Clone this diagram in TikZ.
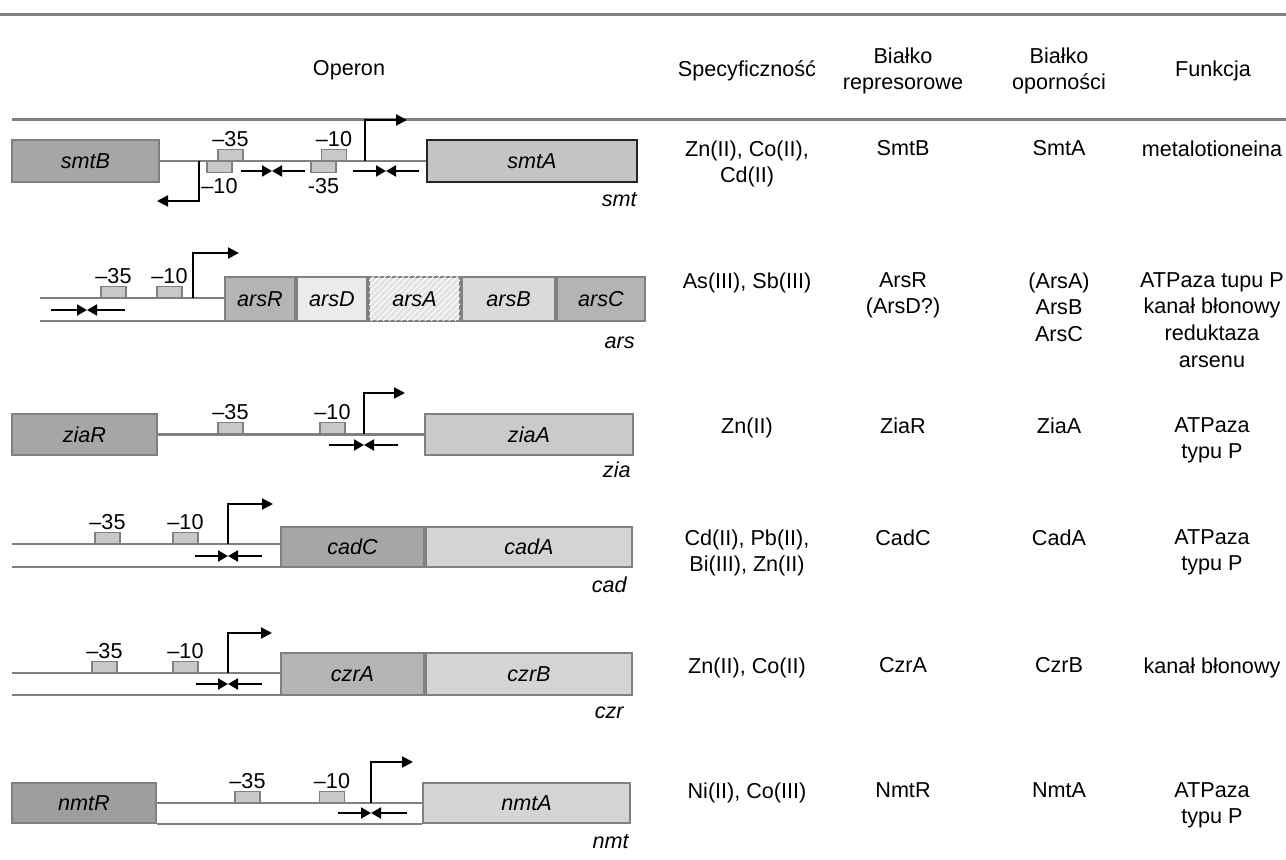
\documentclass[tikz,border=0pt]{standalone}
\usepackage{fontspec}
\setmainfont{Liberation Sans}
\usetikzlibrary{arrows.meta,positioning,patterns}
\definecolor{lineGray}{HTML}{808080}
\definecolor{elemGray}{HTML}{C8C8C8}
\definecolor{geneDark}{HTML}{A6A6A6}
\definecolor{geneMid}{HTML}{B4B4B4}
\definecolor{geneLight}{HTML}{C4C4C4}
\definecolor{genePale}{HTML}{D4D4D4}
\definecolor{geneWhite}{HTML}{ECECEC}
\newcommand{\irpair}[4]{%
  \coordinate (irL) at (#1,#4);
  \coordinate (irM) at (#2,#4);
  \coordinate (irR) at (#3,#4);
  \draw[ir] (irL) -- (irM);
  \draw[ir] (irR) -- (irM);}

\begin{document}
\begin{tikzpicture}[
    x=0.5pt, y=-0.5pt,
    font=\fontsize{10.8}{13.3}\selectfont,
    gene/.style={draw=lineGray, line width=1pt, inner sep=0pt, minimum height=21pt, font=\fontsize{10.8}{12}\itshape},
    elem/.style={draw=lineGray, fill=elemGray, line width=0.6pt, minimum width=12.5pt, minimum height=5.5pt, inner sep=0pt},
    tag/.style={inner sep=0pt},
    dna/.style={draw=lineGray, line width=1.2pt},
    prom/.style={draw=black, line width=1pt, -{Triangle[length=5.5pt, width=5.5pt]}},
    ir/.style={draw=black, line width=1pt, -{Triangle[length=5pt, width=5.5pt]}},
    rule/.style={draw=lineGray, line width=1.5pt},
    cell/.style={align=center, anchor=north, inner sep=0pt},
    opname/.style={anchor=east, inner sep=0pt, font=\fontsize{10.8}{12}\itshape}
  ]
    \useasboundingbox (0,0) rectangle (1286,860);

    % header
    \draw[rule] (0,15) -- (1286,15);
    \draw[rule] (12,120) -- (1286,120);
    \node[cell] (hop) at (349,60) {Operon};
    \node[cell] (hspec) at (747,60) {Specyficzność};
    \node[cell] (hrep) at (903,47) {Białko\\represorowe};
    \node[cell] (hres) at (1059,47) {Białko\\oporności};
    \node[cell] (hfun) at (1213,60) {Funkcja};

    % smt
    \node[gene, fill=geneDark, minimum width=73.5pt] (smtB) at (85.5,161) {smtB};
    \node[gene, fill=geneLight, minimum width=105pt, draw=black!85, line width=1.2pt] (smtA) at (532,161) {smtA};
    \draw[dna] (smtB.east) -- (smtA.west);
    \node[elem, anchor=south] (s35a) at (230.5,161) {};
    \node[elem, anchor=south] (s10a) at (334,161) {};
    \node[elem, anchor=north] (s10b) at (219.5,161) {};
    \node[elem, anchor=north] (s35b) at (323.5,161) {};
    \node[tag, above=1pt of s35a] {–35};
    \node[tag, above=1pt of s10a] {–10};
    \node[tag, below=2.5pt of s10b] {–10};
    \node[tag, below=2.5pt of s35b] {-35};
    \irpair{241}{272}{305}{171}
    \irpair{353}{386}{419}{171}
    \coordinate (smtP) at (365,161);
    \coordinate (smtT) at (407,120);
    \draw[prom] (smtP) |- (smtT);
    \coordinate (smtP2) at (199,161);
    \coordinate (smtT2) at (157,201);
    \draw[prom] (smtP2) |- (smtT2);
    \node[opname] (smt) at (637,200) {smt};

    % ars
    \node[gene, fill=geneMid, minimum width=35pt, minimum height=22pt] (arsR) at (260,299) {arsR};
    \node[gene, fill=geneWhite, minimum width=35pt, minimum height=22pt, right=0pt of arsR] (arsD) {arsD};
    \node[gene, fill=black!11, minimum width=45.5pt, minimum height=22pt, right=0pt of arsD,
      postaction={pattern=north east lines, pattern color=white}] (arsA) {arsA};
    \node[gene, fill=genePale!85!white, minimum width=46.5pt, minimum height=22pt, right=0pt of arsA] (arsB) {arsB};
    \node[gene, fill=geneMid, minimum width=44pt, minimum height=22pt, right=0pt of arsB] (arsC) {arsC};
    \coordinate (arsU) at (40,298);
    \coordinate (arsL) at (40,321);
    \draw[dna] (arsU) -- (arsU -| arsR.west);
    \draw[dna] (arsL) -- (arsL -| arsR.west);
    \node[elem, anchor=south] (a35) at (113.5,298) {};
    \node[elem, anchor=south] (a10) at (169.5,298) {};
    \node[tag, above=1pt of a35] {–35};
    \node[tag, above=1pt of a10] {–10};
    \irpair{51}{87}{125}{310}
    \coordinate (arsP) at (193,298);
    \coordinate (arsT) at (239,253);
    \draw[prom] (arsP) |- (arsT);
    \node[opname] (ars) at (635,343) {ars};

    % zia
    \node[gene, fill=geneDark, minimum width=72.5pt, minimum height=20.5pt] (ziaR) at (84.5,434.5) {ziaR};
    \node[gene, fill=geneLight!90!white, minimum width=104pt, minimum height=20.5pt] (ziaA) at (529,434.5) {ziaA};
    \draw[dna] (ziaR.east) -- (ziaA.west);
    \node[elem, anchor=south] (z35) at (230.5,434.5) {};
    \node[elem, anchor=south] (z10) at (332.5,434.5) {};
    \node[tag, above=1pt of z35] {–35};
    \node[tag, above=1pt of z10] {–10};
    \irpair{329}{364}{398}{445}
    \coordinate (ziaP) at (364,434.5);
    \coordinate (ziaT) at (405,393);
    \draw[prom] (ziaP) |- (ziaT);
    \node[opname] (zia) at (631,470) {zia};

    % cad
    \node[gene, fill=geneDark, minimum width=71.5pt, minimum height=20pt] (cadC) at (352.5,547) {cadC};
    \node[gene, fill=genePale, minimum width=103pt, minimum height=20pt, right=0pt of cadC] (cadA) {cadA};
    \coordinate (cadU) at (12,544);
    \coordinate (cadL) at (12,567);
    \draw[dna] (cadU) -- (cadU -| cadC.west);
    \draw[dna] (cadL) -- (cadL -| cadC.west);
    \node[elem, anchor=south] (c35) at (107.5,544) {};
    \node[elem, anchor=south] (c10) at (185.5,544) {};
    \node[tag, above=1pt of c35] {–35};
    \node[tag, above=1pt of c10] {–10};
    \irpair{195}{228}{262}{556}
    \coordinate (cadP) at (228,544);
    \coordinate (cadT) at (273,504);
    \draw[prom] (cadP) |- (cadT);
    \node[opname] (cad) at (627,585) {cad};

    % czr
    \node[gene, fill=geneMid, minimum width=71.5pt, minimum height=21pt] (czrA) at (352.5,674) {czrA};
    \node[gene, fill=genePale, minimum width=103pt, minimum height=21pt, right=0pt of czrA] (czrB) {czrB};
    \coordinate (czrU) at (12,673);
    \coordinate (czrL) at (12,695);
    \draw[dna] (czrU) -- (czrU -| czrA.west);
    \draw[dna] (czrL) -- (czrL -| czrA.west);
    \node[elem, anchor=south] (r35) at (104.5,673) {};
    \node[elem, anchor=south] (r10) at (185.5,673) {};
    \node[tag, above=1pt of r35] {–35};
    \node[tag, above=1pt of r10] {–10};
    \irpair{196}{228}{262}{684}
    \coordinate (czrP) at (228,673);
    \coordinate (czrT) at (272,633);
    \draw[prom] (czrP) |- (czrT);
    \node[opname] (czr) at (624,713) {czr};

    % nmt
    \node[gene, fill=geneDark!95!black, minimum width=72pt, minimum height=20pt] (nmtR) at (84,803) {nmtR};
    \node[gene, fill=genePale, minimum width=103.5pt, minimum height=20pt] (nmtA) at (526.5,803) {nmtA};
    \draw[dna] (nmtR.east) -- (nmtA.west);
    \draw[dna] (nmtR.south east) -- (nmtA.south west);
    \node[elem, anchor=south] (n35) at (247.5,803) {};
    \node[elem, anchor=south] (n10) at (332,803) {};
    \node[tag, above=1pt of n35] {–35};
    \node[tag, above=1pt of n10] {–10};
    \irpair{338}{371}{407}{813}
    \coordinate (nmtP) at (371,803);
    \coordinate (nmtT) at (413,762);
    \draw[prom] (nmtP) |- (nmtT);
    \node[opname] (nmt) at (629,842) {nmt};

    % table
    \node[cell] (spec1) at (747,140) {Zn(II), Co(II),\\Cd(II)};
    \node[cell] (rep1) at (903,140) {SmtB};
    \node[cell] (res1) at (1059,140) {SmtA};
    \node[cell] (fun1) at (1212,140) {metalotioneina};

    \node[cell] (spec2) at (747,272) {As(III), Sb(III)};
    \node[cell] (rep2) at (903,272) {ArsR\\(ArsD?)};
    \node[cell] (res2) at (1059,272) {(ArsA)\\ArsB\\ArsC};
    \node[cell] (fun2) at (1212,272) {ATPaza tupu P\\kanał błonowy\\reduktaza\\arsenu};

    \node[cell] (spec3) at (747,417) {Zn(II)};
    \node[cell] (rep3) at (903,417) {ZiaR};
    \node[cell] (res3) at (1059,417) {ZiaA};
    \node[cell] (fun3) at (1212,417) {ATPaza\\typu P};

    \node[cell] (spec4) at (747,529) {Cd(II), Pb(II),\\Bi(III), Zn(II)};
    \node[cell] (rep4) at (903,529) {CadC};
    \node[cell] (res4) at (1059,529) {CadA};
    \node[cell] (fun4) at (1212,529) {ATPaza\\typu P};

    \node[cell] (spec5) at (747,657) {Zn(II), Co(II)};
    \node[cell] (rep5) at (903,657) {CzrA};
    \node[cell] (res5) at (1059,657) {CzrB};
    \node[cell] (fun5) at (1212,657) {kanał błonowy};

    \node[cell] (spec6) at (747,782) {Ni(II), Co(III)};
    \node[cell] (rep6) at (903,782) {NmtR};
    \node[cell] (res6) at (1059,782) {NmtA};
    \node[cell] (fun6) at (1212,782) {ATPaza\\typu P};
  \end{tikzpicture}
\end{document}
